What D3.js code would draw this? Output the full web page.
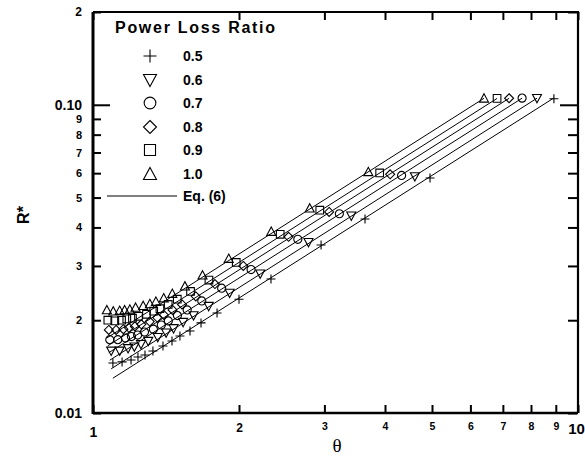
<!DOCTYPE html>
<html><head><meta charset="utf-8">
<script src="https://cdn.jsdelivr.net/npm/d3@7"></script>
<style>body{margin:0;background:#fff}svg{display:block}</style>
</head><body>
<svg id="chart" width="585" height="466"></svg>
<script>
// ---------------- data ----------------
const seriesNames = ["0.5", "0.6", "0.7", "0.8", "0.9", "1.0"];
const seriesSymbols = ["plus", "triangleDown", "circle", "diamond", "square", "triangle"];

const theta05 = [8.92, 4.953, 3.638, 2.953, 2.328, 2.000, 1.802, 1.670, 1.585, 1.511, 1.455, 1.394, 1.329, 1.280, 1.238, 1.198, 1.148, 1.099];
const r05 = [0.1046, 0.0579, 0.0426, 0.0351, 0.0272, 0.0234, 0.0211, 0.0196, 0.01845, 0.01778, 0.01713, 0.0165, 0.01589, 0.01542, 0.0152, 0.01486, 0.01465, 0.01453];

const theta06 = [8.231, 4.609, 3.408, 2.782, 2.212, 1.913, 1.732, 1.612, 1.534, 1.466, 1.415, 1.360, 1.300, 1.256, 1.217, 1.181, 1.135, 1.090];
const r06 = [0.1050, 0.0585, 0.0436, 0.0358, 0.0283, 0.0245, 0.0222, 0.0207, 0.0197, 0.0188, 0.0182, 0.0176, 0.0171, 0.0167, 0.0164, 0.0162, 0.0159, 0.0159];

const theta07 = [7.669, 4.328, 3.221, 2.644, 2.118, 1.842, 1.676, 1.564, 1.493, 1.430, 1.383, 1.332, 1.277, 1.236, 1.200, 1.167, 1.125, 1.083];
const r07 = [0.1051, 0.0590, 0.0443, 0.0366, 0.0292, 0.0254, 0.0231, 0.0216, 0.0207, 0.0199, 0.0193, 0.0187, 0.0183, 0.0179, 0.0177, 0.0175, 0.0173, 0.0173];

const theta08 = [7.21, 4.099, 3.068, 2.531, 2.041, 1.784, 1.629, 1.526, 1.459, 1.400, 1.357, 1.309, 1.258, 1.220, 1.186, 1.155, 1.116, 1.078];
const r08 = [0.1050, 0.0595, 0.0449, 0.0373, 0.0300, 0.0262, 0.0239, 0.0225, 0.0216, 0.0208, 0.0204, 0.0198, 0.0194, 0.0191, 0.0189, 0.0187, 0.0186, 0.0186];

const theta09 = [6.810, 3.900, 2.935, 2.432, 1.974, 1.734, 1.589, 1.492, 1.429, 1.374, 1.334, 1.289, 1.241, 1.206, 1.174, 1.145, 1.109, 1.073];
const r09 = [0.1049, 0.0601, 0.0455, 0.0380, 0.0308, 0.0270, 0.0248, 0.0234, 0.0225, 0.0218, 0.0214, 0.0209, 0.0206, 0.0203, 0.0202, 0.0200, 0.0199, 0.0200];

const theta10 = [6.40, 3.695, 2.798, 2.331, 1.905, 1.682, 1.547, 1.457, 1.399, 1.348, 1.310, 1.269, 1.224, 1.191, 1.162, 1.135, 1.101, 1.068];
const r10 = [0.1050, 0.0606, 0.0462, 0.0388, 0.0317, 0.0280, 0.0258, 0.0244, 0.0236, 0.0230, 0.0226, 0.0223, 0.0220, 0.0217, 0.0216, 0.0215, 0.0214, 0.0216];

// Eq. (6) fitted lines: R* = c * theta (log-log, slope 1)
const eqCoef = [0.0118, 0.01276, 0.0137, 0.01456, 0.0154, 0.0164];

const xTickValues = [1, 2, 3, 4, 5, 6, 7, 8, 9, 10];
const xTickLabels = ["1", "2", "3", "4", "5", "6", "7", "8", "9", "10"];
const yTickValues = [0.01, 0.02, 0.03, 0.04, 0.05, 0.06, 0.07, 0.08, 0.09, 0.1, 0.2];
const yTickLabels = ["0.01", "2", "3", "4", "5", "6", "7", "8", "9", "0.10", "2"];

const legendTitle = "Power Loss Ratio";
const eqLabel = "Eq. (6)";
const xTitle = "\u03B8";
const yTitle = "R*";

// ---------------- layout ----------------
const thetas = [theta05, theta06, theta07, theta08, theta09, theta10];
const rs = [r05, r06, r07, r08, r09, r10];
const series = seriesNames.map((n, i) => ({
  name: n, symbol: seriesSymbols[i], coef: eqCoef[i],
  points: thetas[i].map((t, j) => ({ t, r: rs[i][j] }))
}));

const svg = d3.select("#chart");
const L = 93, R = 578, T = 12, B = 413;
const x = d3.scaleLog().domain([1, 10]).range([L, R]);
const y = d3.scaleLog().domain([0.01, 0.2]).range([B, T]);
const FONT = "'Liberation Sans', Arial, Helvetica, sans-serif";

function symPath(type, s) {
  const h = s * 0.85;
  switch (type) {
    case "plus": return `M${-s},0H${s}M0,${-s}V${s}`;
    case "triangle": return `M0,${-s}L${s},${h}L${-s},${h}Z`;
    case "triangleDown": return `M0,${s}L${s},${-h}L${-s},${-h}Z`;
    case "square": return `M${-s * 0.85},${-s * 0.85}H${s * 0.85}V${s * 0.85}H${-s * 0.85}Z`;
    case "diamond": return `M0,${-s}L${s},0L0,${s}L${-s},0Z`;
    case "circle": return d3.arc()({ innerRadius: 0, outerRadius: s * 0.9, startAngle: 0, endAngle: 2 * Math.PI });
  }
}

// fitted lines
const line = d3.line().x(d => x(d.t)).y(d => y(d.r));
const lineG = svg.append("g");
series.forEach(s => {
  const ext = d3.extent(s.points, d => d.t);
  lineG.append("path")
    .attr("d", line(ext.map(t => ({ t, r: s.coef * t }))))
    .attr("fill", "none").attr("stroke", "#000").attr("stroke-width", 1);
});

// markers
const markG = svg.append("g");
series.forEach(s => {
  markG.selectAll(null).data(s.points).enter().append("path")
    .attr("transform", d => `translate(${x(d.t)},${y(d.r)})`)
    .attr("d", symPath(s.symbol, 4.5))
    .attr("fill", "none").attr("stroke", "#000").attr("stroke-width", 1.1);
});

// axes
function styleAxis(g) {
  g.select(".domain").remove();
  g.selectAll(".tick line").attr("stroke", "#000").attr("stroke-width", 2);
}
const gLeft = svg.append("g").attr("transform", `translate(${L},0)`)
  .call(d3.axisLeft(y).tickValues(yTickValues).tickSizeInner(-8).tickSizeOuter(0).tickPadding(11)
    .tickFormat((d, i) => yTickLabels[i]));
styleAxis(gLeft);
gLeft.selectAll(".tick line").attr("x2", d => (d === 0.1 ? 17 : 8));
gLeft.selectAll(".tick text")
  .attr("font-family", FONT).attr("font-weight", "bold").attr("fill", "#000")
  .attr("font-size", (d, i) => (yTickLabels[i].length > 1 ? 14 : (i === yTickLabels.length - 1 ? 12 : 11)));

const gRight = svg.append("g").attr("transform", `translate(${R - 1},0)`)
  .call(d3.axisRight(y).tickValues(yTickValues).tickSizeInner(-9).tickSizeOuter(0).tickFormat(""));
styleAxis(gRight);
gRight.selectAll(".tick line").attr("x2", d => (d === 0.1 ? -17 : -9));

const gBottom = svg.append("g").attr("transform", `translate(0,${B})`)
  .call(d3.axisBottom(x).tickValues(xTickValues).tickSizeInner(-8).tickSizeOuter(0).tickPadding(10)
    .tickFormat((d, i) => xTickLabels[i]));
styleAxis(gBottom);
const lastX = xTickLabels.length - 1;
gBottom.selectAll(".tick text")
  .attr("font-family", FONT).attr("font-weight", "bold").attr("fill", "#000")
  .attr("font-size", (d, i) => (i === 0 ? 14 : i === 1 ? 12 : i === lastX ? 15 : 10.5))
  .attr("y", (d, i) => (i === 0 ? 14 : i === lastX ? 10 : 10))
  .attr("x", (d, i) => (i === lastX ? -2 : 0));

const gTop = svg.append("g").attr("transform", `translate(0,${T})`)
  .call(d3.axisTop(x).tickValues(xTickValues).tickSizeInner(-8).tickSizeOuter(0).tickFormat(""));
styleAxis(gTop);

// frame
svg.append("path").attr("d", `M${L},${T}H${R}V${B}`).attr("fill", "none").attr("stroke", "#000").attr("stroke-width", 2.2);
svg.append("path").attr("d", `M${R},${B}H${L}`).attr("fill", "none").attr("stroke", "#000").attr("stroke-width", 2.5);
svg.append("path").attr("d", `M${L},${T}V${B + 1}`).attr("fill", "none").attr("stroke", "#000").attr("stroke-width", 3);

// axis titles
svg.append("text").attr("x", 337).attr("y", 452).attr("text-anchor", "middle")
  .attr("font-family", "'Liberation Serif', 'DejaVu Serif', serif").attr("font-size", 19).text(xTitle);
svg.append("text").attr("transform", "translate(29,215) rotate(-90)").attr("text-anchor", "middle")
  .attr("font-family", FONT).attr("font-weight", "bold").attr("font-size", 16).text(yTitle);

// legend
const lg = svg.append("g");
lg.append("text").attr("x", 115).attr("y", 33).attr("font-family", FONT).attr("font-weight", "bold")
  .attr("font-size", 16).attr("textLength", 160).attr("lengthAdjust", "spacing").text(legendTitle);
const rowY = [56, 80, 103, 127, 150, 174];
series.forEach((s, i) => {
  lg.append("path").attr("transform", `translate(150,${rowY[i]})`).attr("d", symPath(s.symbol, 6.5))
    .attr("fill", "none").attr("stroke", "#000").attr("stroke-width", 1.1);
  lg.append("text").attr("x", 183).attr("y", rowY[i] + 5).attr("font-family", FONT).attr("font-weight", "bold")
    .attr("font-size", 14).text(s.name);
});
lg.append("line").attr("x1", 107).attr("x2", 177).attr("y1", 196).attr("y2", 196).attr("stroke", "#000").attr("stroke-width", 1);
lg.append("text").attr("x", 183).attr("y", 201).attr("font-family", FONT).attr("font-weight", "bold")
  .attr("font-size", 14).text(eqLabel);
</script>
</body></html>
